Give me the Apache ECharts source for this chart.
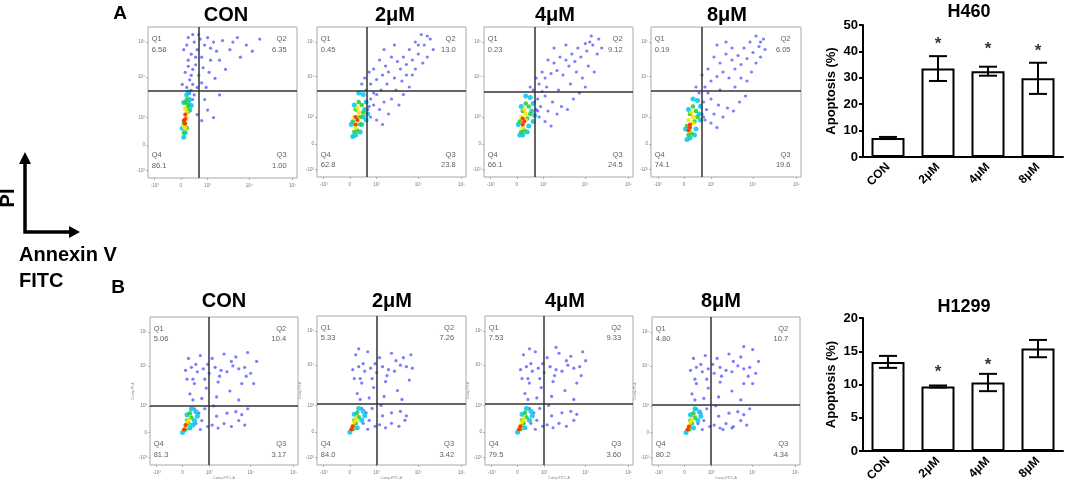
<!DOCTYPE html>
<html><head><meta charset="utf-8">
<script src="https://cdn.jsdelivr.net/npm/echarts@6/dist/echarts.min.js"></script>
<style>html,body{margin:0;padding:0;background:#fff}#c{width:1065px;height:487px}</style>
</head><body><div id="c"></div>
<script>
// ---------------- DATA ----------------
const panelTitles = ['CON', '2μM', '4μM', '8μM'];
const barCats = ['CON', '2μM', '4μM', '8μM'];

// quadrant percentages [Q1, Q2, Q3, Q4]
const quadA = [['6.58','6.35','1.00','86.1'], ['0.45','13.0','23.8','62.8'], ['0.23','9.12','24.5','66.1'], ['0.19','6.05','19.6','74.1']];
const quadB = [['5.06','10.4','3.17','81.3'], ['5.33','7.26','3.42','84.0'], ['7.53','9.33','3.60','79.5'], ['4.80','10.7','4.34','80.2']];

// gate positions (axis units 0-100): [annexin gate, PI gate]
const gatesA = [[34.2, 57.6], [33.6, 57.3], [34.2, 56.7], [34.0, 57.3]];
const gatesB = [[39.9, 40.0], [40.3, 41.0], [39.9, 41.0], [39.9, 40.5]];

// axis tick positions and labels (log display)
const tickPosX = [4.5, 22, 40, 68, 97];
const tickPosY = [5, 22, 40, 67, 90];
const tickLabels = ['-10³', '0', '10³', '10⁴', '10⁵'];

// scatter events: low density (blue)
const a1Blue = [[26,60],[28,65],[25,70],[30,72],[27,78],[29,82],[26,88],[31,90],[33,85],[35,92],[36,80],[38,88],[40,93],[42,86],[32,75],[34,68],[37,73],[30,62],[28,56],[31,55],[33,60],[36,63],[44,90],[48,78],[50,91],[55,85],[60,93],[62,80],[66,88],[70,84],[75,92],[41,70],[45,66],[38,52],[40,45],[44,40],[36,38],[48,55],[52,72],[30,95],[27,93],[24,85],[23,62],[29,68],[27,74],[32,80],[34,95],[29,58],[30,52],[28,48],[33,42],[39,60],[46,84],[57,90],[42,78]];
const a2Blue = [[33,58],[36,52],[38,48],[40,55],[42,45],[45,50],[48,42],[50,52],[55,48],[58,55],[62,60],[36,62],[40,65],[44,68],[48,70],[52,66],[56,72],[60,75],[64,78],[68,82],[72,88],[76,92],[70,95],[66,90],[62,85],[58,80],[54,77],[50,80],[46,74],[42,78],[38,72],[35,70],[45,85],[52,88],[74,80],[78,85],[60,68],[66,72],[34,45],[36,40],[40,38],[44,35],[30,62],[38,56],[33,50],[35,47],[43,58],[47,62],[53,58],[71,76],[64,68],[57,64],[74,94],[68,88],[32,66]];
const a3Blue = [[33,58],[36,52],[38,47],[41,54],[43,44],[46,50],[49,42],[52,47],[56,45],[60,52],[64,56],[68,60],[37,62],[41,66],[45,69],[49,71],[53,68],[57,74],[61,77],[65,80],[69,84],[73,88],[77,92],[72,94],[68,89],[63,86],[59,82],[55,78],[51,80],[47,76],[43,78],[39,70],[35,66],[47,86],[55,88],[76,82],[79,86],[62,70],[70,74],[35,45],[37,40],[41,37],[45,34],[31,60],[39,57],[66,66],[74,70],[42,60],[58,62],[34,50],[36,44],[50,58],[71,90]];
const a4Blue = [[32,56],[35,50],[37,45],[40,52],[42,42],[45,48],[48,40],[51,46],[55,44],[59,50],[63,54],[36,60],[40,64],[44,67],[48,70],[52,66],[56,72],[60,75],[64,79],[68,83],[72,87],[75,92],[70,94],[66,90],[62,86],[58,81],[54,78],[50,82],[46,76],[42,80],[38,72],[34,68],[44,88],[50,90],[73,80],[76,85],[60,66],[67,70],[34,42],[36,38],[40,36],[44,33],[30,60],[38,56],[64,64],[70,76],[46,58],[56,60],[33,48],[35,40],[54,86],[73,90]];
const b1Blue = [[31,28],[33,35],[35,30],[37,38],[39,26],[34,24],[30,38],[42,27],[46,25],[50,28],[55,26],[60,30],[64,27],[45,33],[52,35],[58,36],[62,34],[66,38],[24,64],[28,66],[32,63],[36,65],[40,62],[44,66],[48,64],[52,63],[56,67],[60,65],[64,66],[68,62],[72,70],[26,72],[34,74],[42,72],[50,75],[58,73],[66,76],[30,55],[38,52],[46,56],[54,50],[62,55],[27,48],[35,45],[45,46],[70,55],[29,58],[60,44],[31,68],[39,68],[55,70],[47,60],[25,58],[37,58],[65,60],[43,40],[29,44]];
const b2Blue = [[31,28],[33,35],[35,30],[37,38],[39,26],[34,24],[30,38],[42,27],[46,25],[50,28],[55,26],[59,30],[44,33],[50,35],[56,36],[60,33],[24,64],[28,66],[32,63],[36,65],[40,62],[44,66],[48,64],[52,63],[56,67],[60,66],[64,65],[26,74],[34,76],[42,72],[50,75],[58,72],[30,55],[38,52],[46,56],[54,50],[62,57],[27,48],[35,45],[45,46],[29,58],[57,44],[31,68],[39,68],[53,70],[47,60],[25,58],[37,58],[43,40],[29,44],[28,78],[63,74]];
const b3Blue = [[31,28],[33,35],[35,30],[37,38],[39,26],[34,24],[30,38],[42,27],[46,25],[50,28],[55,26],[60,30],[45,33],[52,35],[58,36],[62,34],[24,64],[28,66],[32,63],[36,65],[40,62],[44,66],[48,64],[52,63],[56,67],[60,65],[64,66],[68,70],[26,74],[34,76],[42,72],[50,75],[58,73],[66,76],[30,55],[38,52],[46,56],[54,50],[62,55],[27,48],[35,45],[45,46],[29,58],[60,44],[31,68],[39,68],[55,70],[47,60],[25,58],[37,58],[65,60],[43,40],[29,44],[30,78],[48,79]];
const b4Blue = [[31,28],[33,35],[35,30],[37,38],[39,26],[34,24],[30,38],[42,27],[46,25],[50,28],[55,26],[60,30],[64,27],[45,33],[52,35],[58,36],[62,34],[66,38],[48,24],[54,25],[26,64],[30,66],[34,63],[38,65],[42,62],[46,66],[50,64],[54,63],[58,67],[62,65],[66,66],[70,62],[72,70],[28,72],[36,74],[44,72],[52,75],[60,73],[68,78],[30,55],[38,52],[46,56],[54,50],[62,55],[27,48],[35,45],[45,46],[68,55],[29,58],[60,44],[33,68],[41,68],[55,70],[47,60],[37,58],[65,60],[43,40],[29,44],[62,80]];

// dense cores: [x, y, density level 1..4]
const a1Core = [[24,27,1],[25,30,1],[28,45,1],[28,52,1],[26,55,1],[27,50,1],[29,48,1],[23,33,1],[24,50,1],[27,57,1],
  [24,30,2],[26,33,2],[27,44,2],[27,48,2],[25,50,2],[26,46,2],[24,36,2],[26,52,2],
  [25,33,3],[26,40,3],[26,44,3],[25,46,3],[24,34,3],
  [25,36,4],[25,39,4],[25,42,4],[24,38,4]];
const a2Core = [[24,27,1],[26,28,1],[30,35,1],[32,45,1],[33,50,1],[31,55,1],[28,56,1],[25,48,1],[23,35,1],[29,30,1],[34,42,1],[33,38,1],[31,40,1],
  [25,30,2],[27,31,2],[29,40,2],[30,48,2],[28,50,2],[26,45,2],[24,37,2],[31,43,2],[29,35,2],
  [26,33,3],[28,38,3],[28,43,3],[27,46,3],[25,40,3],
  [26,35,4],[27,38,4],[26,40,4]];
const a3Core = [[24,28,1],[26,28,1],[30,34,1],[32,44,1],[33,49,1],[31,53,1],[28,54,1],[25,47,1],[23,35,1],[29,30,1],[34,41,1],[33,37,1],
  [25,30,2],[27,31,2],[29,39,2],[30,47,2],[28,49,2],[26,44,2],[24,37,2],[31,42,2],
  [26,33,3],[28,38,3],[28,42,3],[27,45,3],[25,40,3],
  [26,35,4],[27,37,4],[26,39,4]];
const a4Core = [[24,25,1],[26,26,1],[30,32,1],[32,42,1],[33,47,1],[31,51,1],[28,52,1],[25,45,1],[23,32,1],[29,28,1],[33,38,1],
  [25,28,2],[27,29,2],[29,37,2],[30,44,2],[28,47,2],[26,42,2],[24,34,2],[31,40,2],
  [26,31,3],[28,36,3],[28,40,3],[27,43,3],[25,38,3],
  [26,33,4],[26,35,4],[25,31,4]];
const b1Core = [[22,22,1],[27,25,1],[30,30,1],[31,36,1],[28,38,1],[25,34,1],[32,33,1],[29,27,1],
  [24,24,2],[26,28,2],[28,32,2],[27,35,2],[25,30,2],
  [24,26,3],[25,29,3],[26,31,3],
  [23,24,4],[24,27,4]];
const b2Core = [[22,22,1],[27,25,1],[30,30,1],[31,36,1],[28,38,1],[25,34,1],[32,33,1],
  [24,24,2],[26,28,2],[28,32,2],[27,35,2],[25,30,2],
  [24,26,3],[25,29,3],[26,31,3],
  [23,24,4],[24,26,4]];
const b3Core = [[22,22,1],[27,25,1],[30,30,1],[31,36,1],[28,38,1],[25,34,1],[32,33,1],
  [24,24,2],[26,28,2],[28,32,2],[27,35,2],[25,30,2],
  [24,26,3],[25,29,3],[26,31,3],
  [23,24,4],[24,26,4]];
const b4Core = [[23,22,1],[28,25,1],[31,30,1],[32,36,1],[29,38,1],[26,34,1],[33,33,1],
  [25,24,2],[27,28,2],[29,32,2],[28,35,2],[26,30,2],
  [25,26,3],[26,29,3],[27,31,3],
  [24,24,4],[25,26,4]];

// bar charts
const h460Mean = [7.2, 33.5, 32.5, 29.8];
const h460Err = [0.4, 4.7, 1.7, 5.9];
const h460Star = [null, 44.6, 42.7, 42.0];
const h1299Mean = [13.4, 9.7, 10.3, 15.4];
const h1299Err = [0.9, 0.15, 1.3, 1.3];
const h1299Star = [null, 12.6, 13.6, null];

// ---------------- LAYOUT ----------------
const FONT = 'Arial, "Liberation Sans", sans-serif';
const scatterGrids = [
  {left:148, top:27, width:149, height:151}, {left:317, top:27, width:149, height:150},
  {left:484, top:27, width:149, height:150}, {left:651, top:27, width:150, height:150},
  {left:150, top:317, width:148, height:148}, {left:317, top:316, width:149, height:149},
  {left:485, top:316, width:148, height:149}, {left:652, top:317, width:148, height:148}
];
const titlePos = [[226,15],[395,15],[555,15],[727,15],[224,301],[392,301],[565,301],[721,301]];
const blues = [a1Blue, a2Blue, a3Blue, a4Blue, b1Blue, b2Blue, b3Blue, b4Blue];
const cores = [a1Core, a2Core, a3Core, a4Core, b1Core, b2Core, b3Core, b4Core];
const quads = quadA.concat(quadB);
const gates = gatesA.concat(gatesB);
const levelColor = ['#2424ff', '#10c8f0', '#30d030', '#f8e800', '#ff2a00'];
const levelSize = [3.2, 5, 4.6, 4.4, 4.2];

const grid = [], xAxis = [], yAxis = [], series = [], graphic = [];

scatterGrids.forEach((g, i) => {
  grid.push(Object.assign({show:true, borderColor:'#a8a8a8', borderWidth:1, backgroundColor:'#fff'}, g));
  const bottomRow = i >= 4;
  xAxis.push({
    type:'value', gridIndex:i, min:0, max:100,
    axisLine:{show:false}, splitLine:{show:false},
    axisTick:{show:true, customValues:tickPosX, length:2, lineStyle:{color:'#888', width:0.6}},
    axisLabel:{show:true, customValues:tickPosX, fontSize:4.5, color:'#777', margin:5,
      formatter:v => tickLabels[tickPosX.indexOf(v)] || ''},
    name: bottomRow ? 'Comp-FITC-A' : '', nameLocation:'middle', nameGap:11,
    nameTextStyle:{fontSize:3.5, color:'#888'}
  });
  yAxis.push({
    type:'value', gridIndex:i, min:0, max:100,
    axisLine:{show:false}, splitLine:{show:false},
    axisTick:{show:true, customValues:tickPosY, length:2, lineStyle:{color:'#888', width:0.6}},
    axisLabel:{show:true, customValues:tickPosY, fontSize:4.5, color:'#777', margin:3,
      formatter:v => tickLabels[tickPosY.indexOf(v)] || ''},
    name: bottomRow ? 'Comp-PI-A' : '', nameLocation:'middle', nameGap:13,
    nameTextStyle:{fontSize:3.5, color:'#888'}
  });
  series.push({
    type:'scatter', xAxisIndex:i, yAxisIndex:i, data:blues[i], symbolSize:levelSize[0],
    itemStyle:{color:levelColor[0], opacity:0.6}, silent:true, z:2,
    markLine:{silent:true, symbol:'none', label:{show:false},
      lineStyle:{color:'#333', width:1.5, type:'solid'},
      data:[{xAxis:gates[i][0]}, {yAxis:gates[i][1]}]}
  });
  for (let lv = 1; lv <= 4; lv++) {
    series.push({
      type:'scatter', xAxisIndex:i, yAxisIndex:i,
      data:cores[i].filter(p => p[2] === lv).map(p => [p[0], p[1]]),
      symbolSize:levelSize[lv], itemStyle:{color:levelColor[lv], opacity:0.9}, silent:true, z:2 + lv
    });
  }
  const q = quads[i];
  const yt = bottomRow ? [92, 85, 14, 7] : [92, 85, 15, 8];
  const lx = 2.5, rx = bottomRow ? 92 : 93;
  const qData = [
    {value:[lx, yt[0]], name:'Q1', align:'left'}, {value:[lx, yt[1]], name:q[0], align:'left'},
    {value:[rx, yt[0]], name:'Q2', align:'right'}, {value:[rx, yt[1]], name:q[1], align:'right'},
    {value:[rx, yt[2]], name:'Q3', align:'right'}, {value:[rx, yt[3]], name:q[2], align:'right'},
    {value:[lx, yt[2]], name:'Q4', align:'left'}, {value:[lx, yt[3]], name:q[3], align:'left'}
  ].map(d => ({value:d.value, name:d.name,
    label:{show:true, position:'inside', formatter:d.name, align:d.align, fontSize:7.5, color:'#333', fontFamily:FONT}}));
  series.push({type:'scatter', xAxisIndex:i, yAxisIndex:i, data:qData, symbolSize:1,
    itemStyle:{color:'transparent'}, silent:true, z:10});
  graphic.push({type:'text', x:titlePos[i][0], y:titlePos[i][1],
    style:{text:panelTitles[i % 4], font:'bold 20px ' + FONT, fill:'#000', textAlign:'center', textVerticalAlign:'middle'}});
});

const barSpecs = [
  {grid:{left:863, top:25, width:200, height:132}, max:50, interval:10, mean:h460Mean, err:h460Err, star:h460Star, title:'H460', tpos:[969,12]},
  {grid:{left:863, top:318, width:200, height:133}, max:20, interval:5, mean:h1299Mean, err:h1299Err, star:h1299Star, title:'H1299', tpos:[964,307]}
];
barSpecs.forEach((b, k) => {
  const gi = grid.length;
  grid.push(b.grid);
  xAxis.push({type:'category', gridIndex:gi, data:barCats,
    axisLine:{lineStyle:{color:'#000', width:2}},
    axisTick:{alignWithLabel:true, length:4, lineStyle:{color:'#000', width:2}},
    axisLabel:{rotate:45, fontSize:12, fontWeight:'bold', color:'#000', fontFamily:FONT, margin:8}});
  yAxis.push({type:'value', gridIndex:gi, min:0, max:b.max, interval:b.interval,
    axisLine:{show:true, lineStyle:{color:'#000', width:2}},
    axisTick:{show:true, length:4, lineStyle:{color:'#000', width:2}},
    splitLine:{show:false},
    axisLabel:{fontSize:13, fontWeight:'bold', color:'#000', fontFamily:FONT, margin:5},
    name:'Apoptosis (%)', nameLocation:'middle', nameGap:25,
    nameTextStyle:{fontSize:13, fontWeight:'bold', color:'#000', fontFamily:FONT}});
  series.push({type:'bar', xAxisIndex:gi, yAxisIndex:gi, data:b.mean, barWidth:33,
    itemStyle:{color:'#fff', borderColor:'#000', borderWidth:2}, silent:true, z:2});
  series.push({type:'custom', xAxisIndex:gi, yAxisIndex:gi, silent:true, z:5,
    data:b.mean.map((m, j) => [j, m, b.err[j]]),
    renderItem:(params, api) => {
      const x = api.value(0), m = api.value(1), e = api.value(2);
      const t = api.coord([x, m + e]), bt = api.coord([x, m - e]);
      const h = 9, st = {stroke:'#000', lineWidth:2};
      return {type:'group', children:[
        {type:'line', shape:{x1:t[0], y1:t[1], x2:bt[0], y2:bt[1]}, style:st},
        {type:'line', shape:{x1:t[0]-h, y1:t[1], x2:t[0]+h, y2:t[1]}, style:st},
        {type:'line', shape:{x1:bt[0]-h, y1:bt[1], x2:bt[0]+h, y2:bt[1]}, style:st}
      ]};
    }});
  series.push({type:'scatter', xAxisIndex:gi, yAxisIndex:gi, silent:true, z:6, symbolSize:1,
    itemStyle:{color:'transparent'},
    data:b.star.map((s, j) => s === null ? null : [j, s]).filter(d => d !== null),
    label:{show:true, position:'inside', formatter:'*', fontSize:17, fontWeight:'bold', color:'#000',
      fontFamily:FONT, offset:[0, 5]}});
  graphic.push({type:'text', x:b.tpos[0], y:b.tpos[1],
    style:{text:b.title, font:'bold 18px ' + FONT, fill:'#000', textAlign:'center', textVerticalAlign:'middle'}});
});

graphic.push(
  {type:'text', x:120, y:14, style:{text:'A', font:'bold 19px ' + FONT, fill:'#000', textAlign:'center', textVerticalAlign:'middle'}},
  {type:'text', x:118, y:288, style:{text:'B', font:'bold 19px ' + FONT, fill:'#000', textAlign:'center', textVerticalAlign:'middle'}},
  {type:'text', x:8, y:198, rotation:Math.PI/2, style:{text:'PI', font:'bold 20px ' + FONT, fill:'#000', textAlign:'center', textVerticalAlign:'middle'}},
  {type:'polyline', shape:{points:[[25,160],[25,232],[72,232]]}, style:{stroke:'#000', lineWidth:3.5, fill:null}},
  {type:'polygon', shape:{points:[[19,164],[31,164],[25,152]]}, style:{fill:'#000'}},
  {type:'polygon', shape:{points:[[69,226],[69,238],[80,232]]}, style:{fill:'#000'}},
  {type:'text', x:19, y:255, style:{text:'Annexin V', font:'bold 20px ' + FONT, fill:'#000', textAlign:'left', textVerticalAlign:'middle'}},
  {type:'text', x:19, y:281, style:{text:'FITC', font:'bold 20px ' + FONT, fill:'#000', textAlign:'left', textVerticalAlign:'middle'}}
);

const chart = echarts.init(document.getElementById('c'), null, {renderer:'canvas'});
chart.setOption({animation:false, backgroundColor:'#fff', grid, xAxis, yAxis, series, graphic});
</script></body></html>
